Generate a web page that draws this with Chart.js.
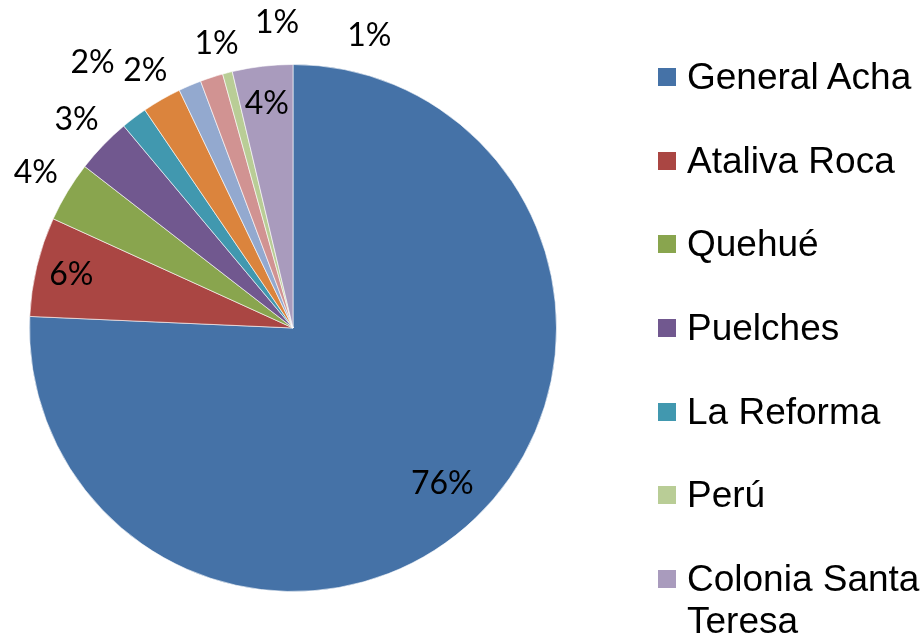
<!DOCTYPE html>
<html>
<head>
<meta charset="utf-8">
<script src="https://cdn.jsdelivr.net/npm/chart.js@4.4.1/dist/chart.umd.min.js"></script>
<style>
  html, body { margin: 0; padding: 0; background: #fff; }
  #wrap { position: relative; width: 922px; height: 639px; overflow: hidden; }
  #legend { position: absolute; left: 658px; top: 56px; margin: 0; padding: 0; list-style: none;
            font-family: "Liberation Sans", Arial, sans-serif; font-size: 37px; line-height: 42px; color: #000; }
  #legend li { display: flex; align-items: flex-start; height: 83.7px; white-space: nowrap; }
  #legend .box { width: 18px; height: 18px; margin-top: 12px; margin-right: 11px; flex: none; }
</style>
</head>
<body>
<div id="wrap">
  <canvas id="pieChart" width="922" height="639"></canvas>
  <ul id="legend"></ul>
</div>
<script>
// localities (three slices have no legend entry in the original)
const categories = ['General Acha', 'Ataliva Roca', 'Quehué', 'Puelches', 'La Reforma',
  '', '', '', 'Perú', ['Colonia Santa', 'Teresa']];
// share of total, in %
const values = [75.7, 6.1, 3.7, 3.4, 1.6, 2.4, 1.4, 1.4, 0.6, 3.7];
const colors = ['#4572A7', '#AA4643', '#89A54E', '#71588F', '#4198AF',
  '#DB843D', '#93A9CF', '#D19392', '#B9CD96', '#A99BBD'];

// where each percentage label sits: inside (fraction of radius) or outside (px past edge, angle shift in degrees)
const labelPlace = [
  { inside: 0.82 }, { inside: 0.865 }, { out: 37, shift: 0 }, { out: 37, shift: 0 },
  { out: 69, shift: 0 }, { out: 33, shift: 0 }, { out: 31, shift: 8 }, { out: 42, shift: 15 },
  { out: 39, shift: 29 }, { inside: 0.857 }
];

const pctLabels = {
  id: 'pctLabels',
  afterDatasetsDraw(chart) {
    const ctx = chart.ctx;
    const total = values.reduce((a, b) => a + b, 0);
    const arcs = chart.getDatasetMeta(0).data;
    ctx.save();
    ctx.font = '32px Lato, "Open Sans", sans-serif';
    ctx.fillStyle = '#000';
    ctx.textAlign = 'center';
    ctx.textBaseline = 'middle';
    arcs.forEach((arc, i) => {
      const p = labelPlace[i];
      const mid = (arc.startAngle + arc.endAngle) / 2 + (p.shift || 0) * Math.PI / 180;
      const d = p.inside ? arc.outerRadius * p.inside : arc.outerRadius + p.out;
      const txt = Math.round(values[i] / total * 100) + '%';
      ctx.fillText(txt, arc.x + Math.cos(mid) * d, arc.y + Math.sin(mid) * d);
    });
    ctx.restore();
  }
};

const pieCtx = document.getElementById('pieChart').getContext('2d');
new Chart(pieCtx, {
  type: 'pie',
  data: {
    labels: categories,
    datasets: [{
      data: values,
      backgroundColor: colors,
      borderColor: 'rgba(255,255,255,0.6)',
      borderWidth: 1
    }]
  },
  options: {
    responsive: false,
    animation: false,
    layout: { padding: { top: 64, bottom: 47, left: 29, right: 365 } },
    plugins: {
      legend: { display: false },
      tooltip: { enabled: false }
    }
  },
  plugins: [pctLabels]
});

// legend, skipping unnamed slices
const legend = document.getElementById('legend');
categories.forEach((name, i) => {
  if (!name || name.length === 0) return;
  const li = document.createElement('li');
  const box = document.createElement('span');
  box.className = 'box';
  box.style.background = colors[i];
  const txt = document.createElement('span');
  txt.innerHTML = [].concat(name).join('<br>');
  li.appendChild(box);
  li.appendChild(txt);
  legend.appendChild(li);
});
</script>
</body>
</html>
